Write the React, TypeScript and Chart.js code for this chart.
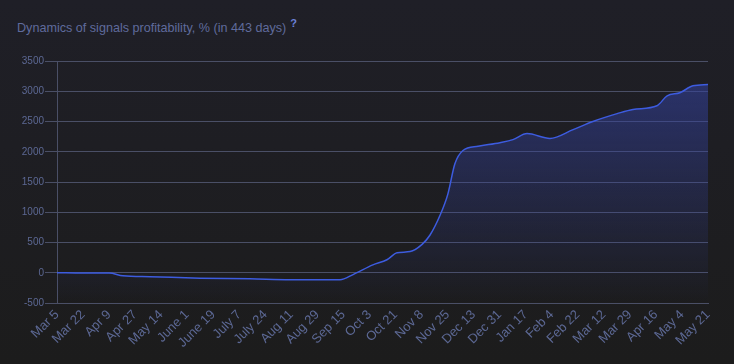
import React, { useEffect, useRef } from "react";
import { Chart, registerables } from "chart.js";

Chart.register(...registerables);

const tickLabels = [
  "Mar 5", "Mar 22", "Apr 9", "Apr 27", "May 14", "June 1", "June 19", "July 7",
  "July 24", "Aug 11", "Aug 29", "Sep 15", "Oct 3", "Oct 21", "Nov 8", "Nov 25",
  "Dec 13", "Dec 31", "Jan 17", "Feb 4", "Feb 22", "Mar 12", "Mar 29", "Apr 16",
  "May 4", "May 21",
];

// position along the time axis, measured in tick-label steps
const positions = [
  0, 1.0, 2.0, 2.53, 3.57, 5.49, 7.41, 8.95, 10.87, 11.37, 12.13, 12.67, 13.06,
  13.56, 14.02, 14.32, 14.71, 15.01, 15.28, 15.59, 16.17, 17.01, 17.51, 18.05,
  18.93, 19.82, 20.58, 21.51, 22.12, 23.04, 23.43, 23.92, 24.42, 25,
];
const profit = [
  0, -5, -5, -50, -65, -90, -100, -115, -115, -30, 130, 215, 330, 350, 470, 620,
  950, 1300, 1800, 2020, 2090, 2150, 2200, 2300, 2220, 2365, 2500, 2630, 2700,
  2760, 2925, 2975, 3090, 3110,
];

const yMin = -500;
const yMax = 3500;
const yStep = 500;

export default function App() {
  const ref = useRef<HTMLCanvasElement | null>(null);

  useEffect(() => {
    const canvas = ref.current;
    if (!canvas) return;
    const gridColor = "#4a4f66";
    const textColor = "#5c6894";
    const chart = new Chart(canvas, {
      type: "line",
      data: {
        datasets: [
          {
            data: positions.map((p, i) => ({ x: p, y: profit[i] })),
            borderColor: "#3d5ce0",
            borderWidth: 1.5,
            pointRadius: 0,
            tension: 0.4,
            cubicInterpolationMode: "monotone",
            fill: "start",
            backgroundColor: (ctx: any) => {
              const area = ctx.chart.chartArea;
              if (!area) return "rgba(50,65,150,0.4)";
              const g = ctx.chart.ctx.createLinearGradient(0, area.top, 0, area.bottom);
              g.addColorStop(0, "rgba(52,66,160,0.62)");
              g.addColorStop(0.5, "rgba(52,66,160,0.3)");
              g.addColorStop(1, "rgba(52,66,160,0.0)");
              return g;
            },
          },
        ],
      },
      options: {
        animation: false,
        responsive: false,
        maintainAspectRatio: false,
        layout: { padding: { top: 11, right: 26, left: 0, bottom: 0 } },
        plugins: { legend: { display: false }, tooltip: { enabled: false } },
        scales: {
          x: {
            type: "linear",
            min: 0,
            max: tickLabels.length - 1,
            afterBuildTicks: (axis: any) => {
              axis.ticks = tickLabels.map((_, i) => ({ value: i }));
            },
            afterFit: (axis: any) => {
              axis.height = 61;
            },
            ticks: {
              autoSkip: false,
              minRotation: 45,
              maxRotation: 45,
              color: textColor,
              font: { family: "Arial, 'Liberation Sans', sans-serif", size: 13 },
              padding: 4,
              callback: (v: any) => tickLabels[Math.round(Number(v))] ?? "",
            },
            grid: { display: false, drawTicks: false },
            border: { display: true, color: gridColor, width: 1 },
          },
          y: {
            min: yMin,
            max: yMax,
            afterFit: (axis: any) => {
              axis.width = 57;
            },
            ticks: {
              stepSize: yStep,
              color: textColor,
              font: { family: "Arial, 'Liberation Sans', sans-serif", size: 10 },
              padding: 1,
              callback: (v: any) => String(v),
            },
            grid: { color: gridColor, lineWidth: 1, tickLength: 12 },
            border: { display: true, color: gridColor, width: 1 },
          },
        },
      },
    });
    return () => chart.destroy();
  }, []);

  return (
    <div
      style={{
        position: "fixed",
        left: 0,
        top: 0,
        width: 734,
        height: 364,
        background: "linear-gradient(180deg, #1f1f27 0%, #1e1e23 40%, #1c1c1c 100%)",
        overflow: "hidden",
      }}
    >
      <div
        style={{
          position: "absolute",
          left: 17,
          top: 17,
          fontFamily: "Arial, 'Liberation Sans', sans-serif",
          fontSize: 12.6,
          color: "#5f6b9c",
          whiteSpace: "nowrap",
        }}
      >
        Dynamics of signals profitability, % (in 443 days)
        <sup style={{ color: "#6b80d6", fontWeight: "bold", fontSize: 11, marginLeft: 4 }}>?</sup>
      </div>
      <canvas
        ref={ref}
        width={734}
        height={314}
        style={{ position: "absolute", left: 0, top: 50, width: 734, height: 314 }}
      />
    </div>
  );
}
